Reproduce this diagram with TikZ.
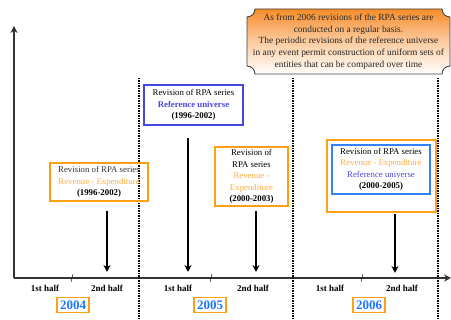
\documentclass[tikz,border=0pt]{standalone}
\usepackage{xcolor}
\usepackage{fontspec}
\setmainfont{Liberation Serif}
\usepackage{tikz}
\usetikzlibrary{calc,arrows.meta}
\tikzset{>={Stealth[length=7pt,width=7pt]}}
\definecolor{revorange}{RGB}{255,160,20}
\definecolor{revtext}{RGB}{255,172,64}
\definecolor{refblue}{RGB}{72,72,225}
\definecolor{lightblue}{RGB}{50,130,255}
\definecolor{yearblue}{RGB}{28,118,255}
\definecolor{notefill}{RGB}{247,140,42}
\tikzset{
  revbox/.style={draw=revorange, line width=1.1pt, align=center, inner sep=1pt,
    font=\fontsize{8.8}{11.4}\selectfont},
  refbox/.style={revbox, draw=refblue},
  yearbox/.style={draw=revorange, line width=1.1pt, text=yearblue, inner sep=3pt,
    font=\fontsize{13}{13}\selectfont\bfseries},
  halflabel/.style={font=\fontsize{9}{10}\selectfont\bfseries},
  period/.style={line width=1.5pt, densely dotted},
  revarrow/.style={line width=1.2pt, ->}
}

\begin{document}
\begin{tikzpicture}[x=1pt,y=1pt]
        \useasboundingbox (0,0) rectangle (451,320);
        % axes
        \draw[line width=1.3pt,black!80,->] (14,42) -- (14,294);
        \draw[line width=1.3pt,black!80,->] (14,42) -- (451,42);
        \draw[thin] (71,38) -- (73,46);
        \draw[thin] (210,38) -- (212,46);
        \draw[thin] (361,38) -- (363,46);
        \draw[period] (139,242) -- (139,0);
        \draw[period] (293,242) -- (293,0);
        \draw[period] (438,242) -- (438,0);
        % halves and years
        \node[halflabel] (h1) at (45,32) {1st half};
        \node[halflabel] (h2) at (107,32) {2nd half};
        \node[halflabel] (h3) at (178,32) {1st half};
        \node[halflabel] (h4) at (253,32) {2nd half};
        \node[halflabel] (h5) at (330,32) {1st half};
        \node[halflabel] (h6) at (402,32) {2nd half};
        \node[yearbox] (y4) at (73,15) {2004};
        \node[yearbox] (y5) at (210,15) {2005};
        \node[yearbox] (y6) at (369,15) {2006};
        % revisions
        \node[revbox, minimum width=98pt, minimum height=38pt] (rev1) at (99,138)
          {\color{black!80}Revision of RPA series\\ \color{revtext}Revenue - Expenditure\\ \textbf{\color{black}(1996-2002)}};
        \node[refbox, minimum width=99pt, minimum height=40pt] (rev2) at (193.5,215)
          {Revision of RPA series\\ \textcolor{refblue}{\textbf{Reference universe}}\\ \textbf{(1996-2002)}};
        \node[revbox, minimum width=73pt, minimum height=59pt] (rev3) at (251.5,143.5)
          {Revision of\\ RPA series\\ \textcolor{revtext}{Revenue -}\\ \textcolor{revtext}{Expenditure}\\ \textbf{(2000-2003)}};
        \node[revbox, minimum width=109pt, minimum height=72pt] (rev4out) at (381.5,144) {};
        \node[revbox, draw=lightblue, minimum width=98pt, minimum height=49pt] (rev4) at (381,150.5)
          {Revision of RPA series\\ \textcolor{revtext}{Revenue - Expenditure}\\ \textcolor{refblue}{Reference universe}\\ \textbf{(2000-2005)}};
        \coordinate (s1) at (107,109); \coordinate (e1) at (107,48);
        \coordinate (s2) at (188,182); \coordinate (e2) at (188,48);
        \coordinate (s3) at (256,109); \coordinate (e3) at (256,48);
        \coordinate (s4) at (395,106); \coordinate (e4) at (395,47);
        \draw[revarrow] (s1) -- (e1);
        \draw[revarrow] (s2) -- (e2);
        \draw[revarrow] (s3) -- (e3);
        \draw[revarrow] (s4) -- (e4);
        % note
        \draw[black!75, line width=0.9pt, top color=notefill, bottom color=white, middle color=notefill!45]
          (255,311) -- (442,311) arc[start angle=180, end angle=270, radius=8]
          -- (450,254) arc[start angle=90, end angle=180, radius=8]
          -- (255,246) arc[start angle=0, end angle=90, radius=8]
          -- (247,303) arc[start angle=270, end angle=360, radius=8] -- cycle;
        \node[align=center, text=black!85, font=\fontsize{9.4}{11.7}\selectfont] (note) at (348.5,278.5)
          {As from 2006 revisions of the RPA series are\\ conducted on a regular basis.\\
           The periodic revisions of the reference universe\\ in any event permit construction of uniform sets of\\
           entities that can be compared over time};
      \end{tikzpicture}
\end{document}
